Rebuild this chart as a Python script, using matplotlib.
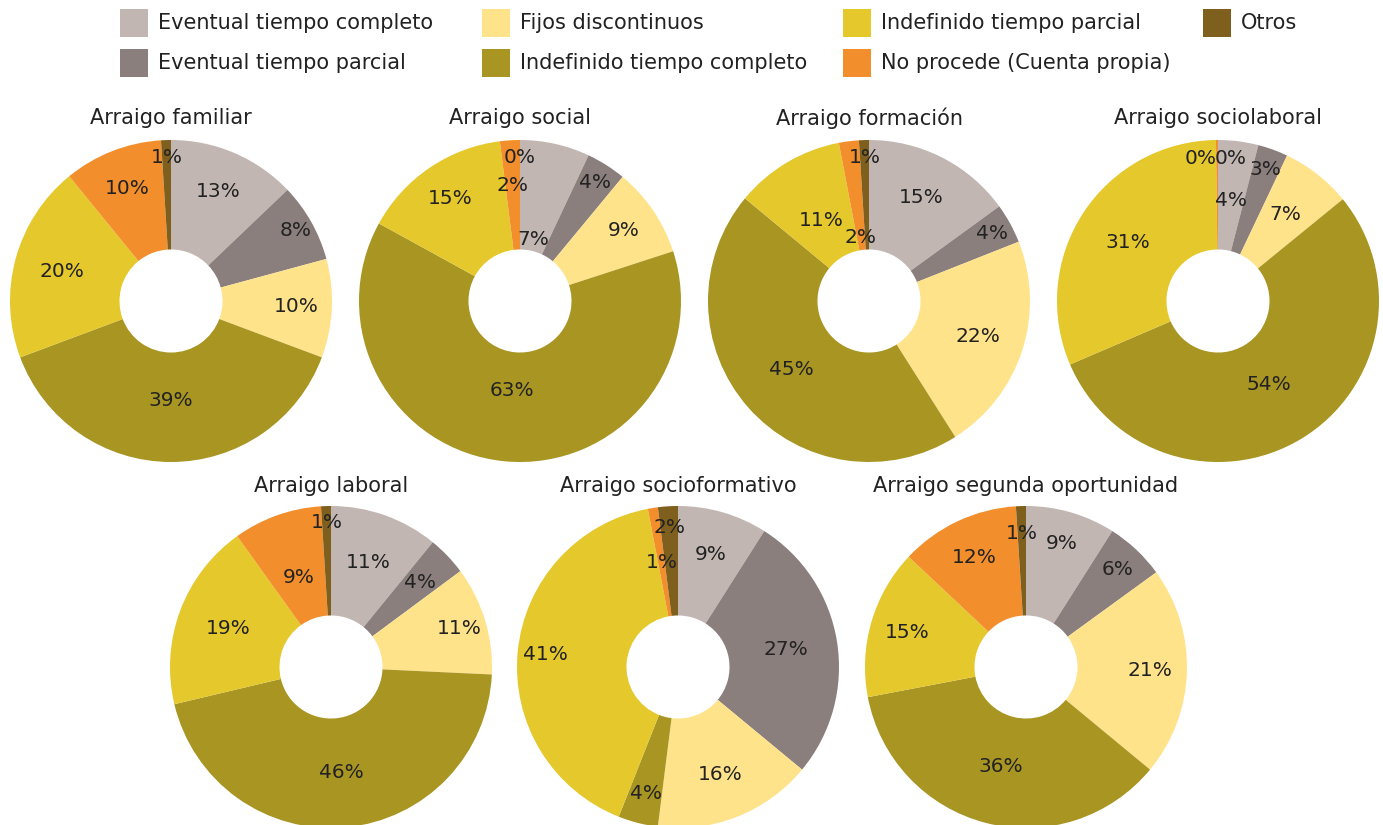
import numpy as np
import matplotlib
matplotlib.use("Agg")
import matplotlib.pyplot as plt
from matplotlib.patches import Rectangle

# ---------------- data ----------------
categories = [
    "Eventual tiempo completo",
    "Eventual tiempo parcial",
    "Fijos discontinuos",
    "Indefinido tiempo completo",
    "Indefinido tiempo parcial",
    "No procede (Cuenta propia)",
    "Otros",
]
titles = [
    "Arraigo familiar",
    "Arraigo social",
    "Arraigo formación",
    "Arraigo sociolaboral",
    "Arraigo laboral",
    "Arraigo socioformativo",
    "Arraigo segunda oportunidad",
]
familiar = [13, 8, 10, 39, 20, 10, 1]
social = [7, 4, 9, 63, 15, 2, 0]
formacion = [15, 4, 22, 45, 11, 2, 1]
sociolaboral = [4, 3, 7, 54, 31, 0.2, 0]
laboral = [11, 4, 11, 46, 19, 9, 1]
socioformativo = [9, 27, 16, 4, 41, 1, 2]
segunda = [9, 6, 21, 36, 15, 12, 1]
series = [familiar, social, formacion, sociolaboral, laboral, socioformativo, segunda]

# ---------------- style / layout ----------------
colors = ["#c1b6b2", "#8a7f7d", "#fee38a", "#a89522", "#e5c82c", "#f28e2b", "#7f5f1e"]
W, H = 1383, 825
R = 161
centers = [(171, 301), (520, 301), (869, 301), (1218, 301),
           (331, 667), (678, 667), (1026, 667)]
title_y = [118, 118, 118, 118, 486, 486, 486]
hole = 0.32
# label radius (fraction of outer radius) for each wedge label
label_r = [
    [0.74, 0.89, 0.78, 0.62, 0.70, 0.75, 0.89],
    [0.39, 0.87, 0.78, 0.56, 0.77, 0.72, 0.89],
    [0.72, 0.87, 0.71, 0.64, 0.58, 0.40, 0.89],
    [0.63, 0.87, 0.68, 0.61, 0.67, 0.89, 0.89],
    [0.69, 0.76, 0.83, 0.66, 0.68, 0.59, 0.90],
    [0.73, 0.68, 0.72, 0.81, 0.83, 0.66, 0.87],
    [0.80, 0.83, 0.77, 0.64, 0.77, 0.75, 0.83],
]
angle_shift = {(3, 5): 6.5, (3, 6): -5.0}

label_font = ["DejaVu Sans"]
text_font = ["DejaVu Sans"]

fig = plt.figure(figsize=(W / 100, H / 100), dpi=100)
fig.patch.set_facecolor("white")

for k, (vals, title) in enumerate(zip(series, titles)):
    cx, cy = centers[k]
    ax = fig.add_axes([(cx - R) / W, (H - cy - R) / H, 2 * R / W, 2 * R / H])
    ax.pie(vals, colors=colors, startangle=90, counterclock=False, radius=1,
           wedgeprops=dict(width=1 - hole, linewidth=0))
    ax.set_xlim(-1, 1)
    ax.set_ylim(-1, 1)
    ax.set_aspect("equal")
    ax.axis("off")
    total = float(sum(vals))
    cum = 0.0
    for i, v in enumerate(vals):
        mid = cum + v / 2.0
        cum += v
        ang = np.deg2rad(90 - 360 * mid / total + angle_shift.get((k, i), 0))
        r = label_r[k][i]
        ax.text(r * np.cos(ang), r * np.sin(ang), f"{int(round(v))}%",
                ha="center", va="center", fontsize=14.5, color="#222222",
                family=label_font, clip_on=False)
    fig.text(cx / W, 1 - title_y[k] / H, title, ha="center", va="center",
             fontsize=15, color="#222222", family=text_font)

# ---------------- legend (manual) ----------------
col_x = [120, 482, 843, 1203]
row_y = [23, 63]
ps = 28
for idx, (cat, col) in enumerate(zip(categories, colors)):
    c, rrow = divmod(idx, 2)
    x0 = col_x[c]
    y0 = row_y[rrow]
    fig.patches.append(Rectangle((x0 / W, 1 - (y0 + ps / 2) / H), ps / W, ps / H,
                                 transform=fig.transFigure, facecolor=col,
                                 edgecolor="none"))
    fig.text((x0 + ps + 10) / W, 1 - y0 / H, cat, ha="left", va="center",
             fontsize=15, color="#222222", family=text_font)

fig.savefig("out.png", dpi=100, facecolor="white")
